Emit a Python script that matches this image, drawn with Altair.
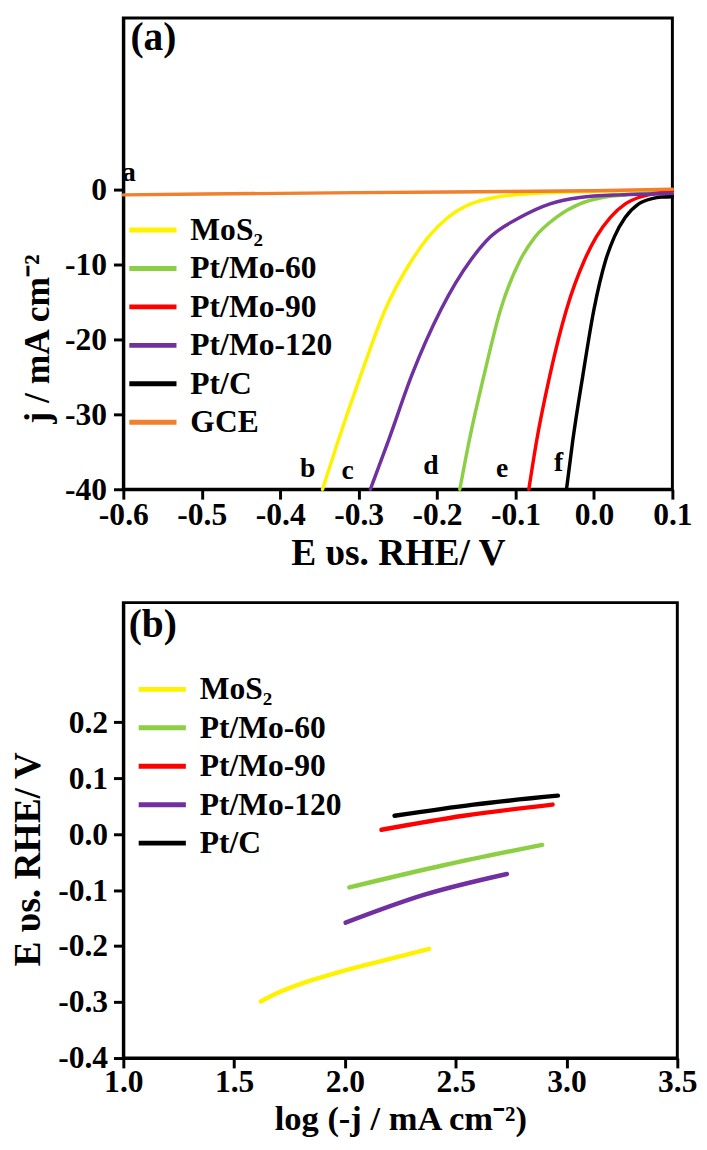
import altair as alt
import pandas as pd

FONT = "Liberation Serif"
MINUS = "\u2212"

# ---------------- shared series info ----------------
SERIES_A = ["MoS₂", "Pt/Mo-60", "Pt/Mo-90", "Pt/Mo-120", "Pt/C", "GCE"]
COLORS_A = ["#FFF200", "#8CCF45", "#FF0000", "#7030A0", "#000000", "#F07F2E"]
SERIES_B = SERIES_A[:5]
COLORS_B = COLORS_A[:5]

# ---------------- (a) LSV curves: E (V vs RHE), j (mA cm-2) ----------------
mos2_E = [-0.346, -0.326, -0.297, -0.266, -0.232, -0.211, -0.186, -0.157, -0.127, -0.073, 0.0, 0.1]
mos2_j = [-40, -33.5, -24.7, -16.0, -9.4, -6.3, -3.7, -1.9, -1.05, -0.5, -0.25, -0.1]
pt60_E = [-0.171, -0.159, -0.140, -0.119, -0.094, -0.075, -0.048, -0.018, 0.011, 0.049, 0.1]
pt60_j = [-40, -33.5, -24.7, -16.0, -9.4, -6.3, -3.7, -1.9, -1.05, -0.6, -0.3]
pt90_E = [-0.083, -0.073, -0.056, -0.035, -0.012, 0.003, 0.021, 0.040, 0.057, 0.078, 0.1]
pt90_j = [-40, -33.5, -24.7, -16.0, -9.4, -6.3, -3.7, -1.9, -1.05, -0.5, -0.2]
pt120_E = [-0.285, -0.262, -0.232, -0.195, -0.157, -0.132, -0.094, -0.056, -0.018, 0.032, 0.1]
pt120_j = [-40, -33.5, -24.7, -16.0, -9.4, -6.3, -3.7, -1.9, -1.05, -0.7, -0.55]
ptc_E = [-0.035, -0.027, -0.014, 0.000, 0.015, 0.026, 0.040, 0.057, 0.074, 0.086, 0.1]
ptc_j = [-40, -33.5, -24.7, -16.0, -9.4, -6.3, -3.7, -1.9, -1.2, -1.0, -0.95]
gce_E = [-0.6, -0.3, 0.0, 0.1]
gce_j = [-0.7, -0.4, -0.15, 0.05]

XA_TICKS = [-0.6, -0.5, -0.4, -0.3, -0.2, -0.1, 0.0, 0.1]
YA_TICKS = [-40, -30, -20, -10, 0]

# curve letters in (a)
LETTERS = ["a", "b", "c", "d", "e", "f"]
LETTER_E = [-0.593, -0.365, -0.314, -0.208, -0.117, -0.045]
LETTER_J = [1.2, -38.3, -38.6, -38.0, -38.3, -37.6]

# ---------------- (b) Tafel lines: log(-j), E ----------------
t_mos2_x = [1.62, 1.70, 1.81, 1.95, 2.15, 2.38]
t_mos2_y = [-0.299, -0.283, -0.266, -0.249, -0.228, -0.205]
t_pt60_x = [2.02, 2.45, 2.89]
t_pt60_y = [-0.095, -0.055, -0.019]
t_pt90_x = [2.165, 2.536, 2.937]
t_pt90_y = [0.008, 0.033, 0.053]
t_pt120_x = [2.003, 2.359, 2.731]
t_pt120_y = [-0.158, -0.108, -0.071]
t_ptc_x = [2.224, 2.58, 2.961]
t_ptc_y = [0.033, 0.053, 0.069]

XB_TICKS = [1.0, 1.5, 2.0, 2.5, 3.0, 3.5]
YB_TICKS = [-0.4, -0.3, -0.2, -0.1, 0.0, 0.1, 0.2]

PANEL_TAGS = ["(a)", "(b)"]

# legend swatch: a horizontal line longer than the nominal symbol box
SWATCH = "M-1.45,0H1.45"


def long_df(names, xs, ys):
    rows = []
    for n, xv, yv in zip(names, xs, ys):
        for k, (a, b) in enumerate(zip(xv, yv)):
            rows.append({"series": n, "x": a, "y": b, "k": k})
    return pd.DataFrame(rows)


df_a = long_df(SERIES_A,
               [mos2_E, pt60_E, pt90_E, pt120_E, ptc_E, gce_E],
               [mos2_j, pt60_j, pt90_j, pt120_j, ptc_j, gce_j])
df_b = long_df(SERIES_B,
               [t_mos2_x, t_pt60_x, t_pt90_x, t_pt120_x, t_ptc_x],
               [t_mos2_y, t_pt60_y, t_pt90_y, t_pt120_y, t_ptc_y])

letters_df = pd.DataFrame({"x": LETTER_E, "y": LETTER_J, "t": LETTERS})
tag_a_df = pd.DataFrame({"x": [-0.591], "y": [18.7], "t": [PANEL_TAGS[0]]})
tag_b_df = pd.DataFrame({"x": [1.024], "y": [0.353], "t": [PANEL_TAGS[1]]})

lab_int = "replace(format(datum.value, 'd'), '" + MINUS + "', '-')"
lab_1f = "replace(format(datum.value, '.1f'), '" + MINUS + "', '-')"


def make_legend(lx, ly):
    return alt.Legend(orient="none", legendX=lx, legendY=ly, symbolType=SWATCH,
                      symbolStrokeWidth=5, symbolSize=1089, labelFont=FONT,
                      labelFontSize=32, labelFontWeight="bold", labelColor="black",
                      rowPadding=4, labelOffset=19, padding=0, labelLimit=300)


# ---------------- panel (a) ----------------
sx_a = alt.Scale(domain=[-0.6, 0.1], nice=False, zero=False)
sy_a = alt.Scale(domain=[-40, 22.9], nice=False, zero=False)

xa = alt.X("x:Q", scale=sx_a,
           axis=alt.Axis(title="E υs. RHE/ V", values=XA_TICKS, labelExpr=lab_1f,
                         labelFlush=False, labelPadding=1, titlePadding=4))
ya = alt.Y("y:Q", scale=sy_a,
           axis=alt.Axis(title="j / mA cm⁻²", values=YA_TICKS, labelExpr=lab_int,
                         labelPadding=7, titlePadding=8, titleFontSize=36, titleY=325))

lines_a = alt.Chart(df_a).mark_line(strokeWidth=3.5, interpolate="monotone", strokeCap="round").encode(
    x=xa, y=ya,
    color=alt.Color("series:N", title=None,
                    scale=alt.Scale(domain=SERIES_A, range=COLORS_A),
                    legend=make_legend(11, 196)),
    order="k:Q",
)
letters_a = alt.Chart(letters_df).mark_text(font=FONT, fontSize=28, fontWeight="bold",
                                            baseline="alphabetic", align="center",
                                            color="black").encode(
    x=alt.X("x:Q", scale=sx_a), y=alt.Y("y:Q", scale=sy_a), text="t:N")
tag_a = alt.Chart(tag_a_df).mark_text(font=FONT, fontSize=40, fontWeight="bold",
                                      baseline="alphabetic", align="left",
                                      color="black").encode(
    x=alt.X("x:Q", scale=sx_a), y=alt.Y("y:Q", scale=sy_a), text="t:N")

panel_a = alt.layer(lines_a, letters_a, tag_a).properties(width=557, height=478)

# ---------------- panel (b) ----------------
sx_b = alt.Scale(domain=[1.0, 3.5], nice=False, zero=False)
sy_b = alt.Scale(domain=[-0.4, 0.414], nice=False, zero=False)

xb = alt.X("x:Q", scale=sx_b,
           axis=alt.Axis(title="log (-j / mA cm⁻²)", values=XB_TICKS, labelExpr=lab_1f,
                         labelFlush=False, labelPadding=-1, titlePadding=4, titleFontSize=35))
yb = alt.Y("y:Q", scale=sy_b,
           axis=alt.Axis(title="E υs. RHE/ V", values=YB_TICKS, labelExpr=lab_1f,
                         labelPadding=6, titlePadding=10, titleY=260))

lines_b = alt.Chart(df_b).mark_line(strokeWidth=4.5, interpolate="monotone", strokeCap="round").encode(
    x=xb, y=yb,
    color=alt.Color("series:N", title=None,
                    scale=alt.Scale(domain=SERIES_B, range=COLORS_B),
                    legend=make_legend(20.5, 69)),
    order="k:Q",
)
tag_b = alt.Chart(tag_b_df).mark_text(font=FONT, fontSize=40, fontWeight="bold",
                                      baseline="alphabetic", align="left",
                                      color="black").encode(
    x=alt.X("x:Q", scale=sx_b), y=alt.Y("y:Q", scale=sy_b), text="t:N")

panel_b = alt.layer(lines_b, tag_b).properties(width=562, height=462)

chart = (
    alt.vconcat(panel_a, panel_b, spacing=27)
    .resolve_scale(color="independent")
    .resolve_legend(color="independent")
    .properties(padding=0, background="white")
    .configure_view(stroke="black", strokeWidth=3)
    .configure_axis(
        grid=False,
        domainColor="black", domainWidth=3,
        tickColor="black", tickWidth=3, tickSize=10,
        labelFont=FONT, labelFontSize=32, labelFontWeight="bold", labelColor="black",
        titleFont=FONT, titleFontSize=38, titleFontWeight="bold", titleColor="black",
    )
)

chart.save("out.html", embed_options={"renderer": "svg", "actions": False})
